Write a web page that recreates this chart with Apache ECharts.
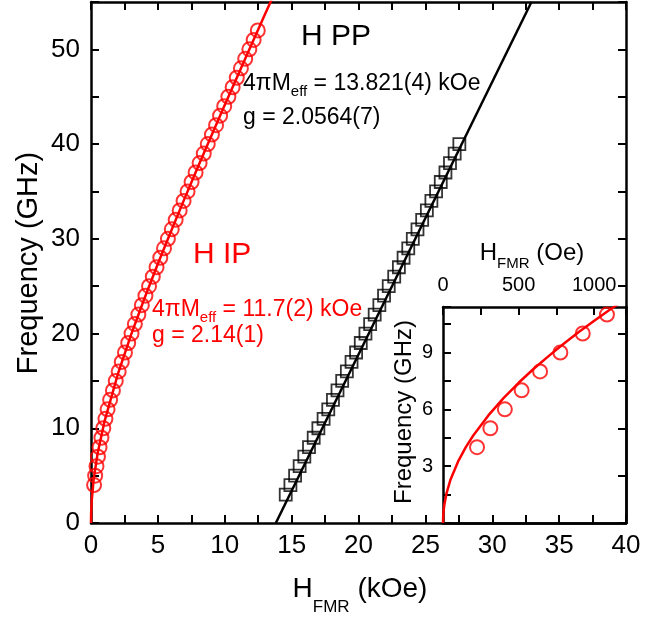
<!DOCTYPE html>
<html>
<head>
<meta charset="utf-8">
<script src="https://cdn.jsdelivr.net/npm/echarts@6/dist/echarts.min.js"></script>
<style>html,body{margin:0;padding:0;background:#fff;}#c{width:668px;height:620px;}</style>
</head>
<body>
<div id="c"></div>
<script>
// ---- data ----
// H IP (in-plane) measured points: field (kOe), frequency (GHz)
const ipField = [0.23,0.31,0.41,0.52,0.64,0.78,0.92,1.08,1.24,1.43,1.64,1.85,2.07,2.30,2.54,2.78,3.03,3.28,3.54,3.80,4.07,4.34,4.62,4.90,5.18,5.46,5.75,6.04,6.33,6.63,6.92,7.22,7.52,7.82,8.12,8.43,8.73,9.04,9.35,9.65,9.96,10.27,10.59,10.90,11.21,11.53,11.84,12.16,12.47];
const ipFreq  = [4,5,6,7,8,9,10,11,12,13,14,15,16,17,18,19,20,21,22,23,24,25,26,27,28,29,30,31,32,33,34,35,36,37,38,39,40,41,42,43,44,45,46,47,48,49,50,51,52];
// H IP fit curve
const ipFitField = [0,0.01,0.05,0.2,0.5,1,2,3,4,5,6,7,8,9,10,11,12,13,13.5];
const ipFitFreq  = [0,1.03,2.30,4.62,7.40,10.67,15.68,19.89,23.73,27.37,30.86,34.27,37.60,40.88,44.12,47.33,50.51,53.67,55.24];
// H PP (perpendicular) measured points
const ppField = [14.56,14.91,15.26,15.60,15.95,16.30,16.65,17.00,17.39,17.74,18.09,18.43,18.78,19.13,19.48,19.82,20.17,20.52,20.87,21.21,21.56,21.91,22.26,22.67,23.02,23.37,23.72,24.06,24.41,24.76,25.11,25.45,25.80,26.15,26.50,26.84,27.19,27.54];
const ppFreq  = [3,4,5,6,7,8,9,10,11,12,13,14,15,16,17,18,19,20,21,22,23,24,25,26,27,28,29,30,31,32,33,34,35,36,37,38,39,40];
// H PP fit line
const ppFitField = [13.82,32.93];
const ppFitFreq  = [0,55];
// inset: low-field in-plane points (Oe, GHz)
const insetField = [225,313,409,520,642,776,924,1084];
const insetFreq  = [4,5,6,7,8,9,10,11];
const insetFitField = [0,2,5,10,25,50,100,150,200,300,400,500,600,700,800,900,1000,1100,1200];
const insetFitFreq  = [0,0.46,0.72,1.02,1.62,2.30,3.25,3.99,4.62,5.68,6.59,7.40,8.14,8.82,9.47,10.09,10.67,11.24,11.78];

const F = "'Liberation Sans', Arial, sans-serif";
const RED = '#ff0000';
const zip = (a, b) => a.map((v, i) => [v, b[i]]);

const axisLine = {show: true, onZero: false, lineStyle: {color: '#000', width: 2.5}};
const tickIn = {show: true, inside: true, length: 8, lineStyle: {color: '#000', width: 2}};

const chart = echarts.init(document.getElementById('c'), null, {renderer: 'canvas'});
chart.setOption({
  animation: false,
  backgroundColor: '#fff',
  grid: [
    {left: 91, top: 2, width: 535, height: 521, containLabel: false},
    {left: 443, top: 307, width: 183, height: 216, show: true, backgroundColor: '#fff', borderWidth: 0, containLabel: false}
  ],
  xAxis: [
    {gridIndex: 0, type: 'value', min: 0, max: 40, interval: 2.5, position: 'bottom',
     axisLine, axisTick: tickIn, splitLine: {show: false},
     axisLabel: {fontFamily: F, fontSize: 26, color: '#000', margin: 10,
       formatter: v => (Math.abs(v % 5) < 1e-6 ? String(v) : '')}},
    {gridIndex: 0, type: 'value', min: 0, max: 40, interval: 2.5, position: 'top',
     axisLine, axisTick: tickIn, splitLine: {show: false}, axisLabel: {show: false}},
    {gridIndex: 1, type: 'value', min: 0, max: 1210, interval: 250, position: 'top',
     axisLine, axisTick: tickIn, splitLine: {show: false},
     axisLabel: {fontFamily: F, fontSize: 20, color: '#000', margin: 12,
       formatter: v => (v % 500 === 0 && v <= 1000 ? String(v) : '')}},
    {gridIndex: 1, type: 'value', min: 0, max: 1210, position: 'bottom',
     axisLine, axisTick: {show: false}, splitLine: {show: false}, axisLabel: {show: false}}
  ],
  yAxis: [
    {gridIndex: 0, type: 'value', min: 0, max: 55, interval: 5, position: 'left',
     axisLine, axisTick: tickIn, splitLine: {show: false},
     axisLabel: {fontFamily: F, fontSize: 26, color: '#000', margin: 11,
       formatter: v => (v % 10 === 0 ? String(v) : '')}},
    {gridIndex: 0, type: 'value', min: 0, max: 55, interval: 5, position: 'right',
     axisLine, axisTick: tickIn, splitLine: {show: false}, axisLabel: {show: false}},
    {gridIndex: 1, type: 'value', min: 0, max: 11.4, interval: 1.5, position: 'left',
     axisLine, axisTick: tickIn, splitLine: {show: false},
     axisLabel: {fontFamily: F, fontSize: 20, color: '#000', margin: 10,
       formatter: v => (v > 0 && Math.abs(v % 3) < 1e-6 ? String(Math.round(v)) : '')}},
    {gridIndex: 1, type: 'value', min: 0, max: 11.4, position: 'right',
     axisLine, axisTick: {show: false}, splitLine: {show: false}, axisLabel: {show: false}}
  ],
  series: [
    {type: 'line', xAxisIndex: 0, yAxisIndex: 0, data: zip(ipFitField, ipFitFreq), showSymbol: false,
     lineStyle: {color: RED, width: 2.5}, clip: true, z: 3},
    {type: 'scatter', xAxisIndex: 0, yAxisIndex: 0, data: zip(ipField, ipFreq), symbol: 'circle', symbolSize: 14,
     itemStyle: {color: 'rgba(0,0,0,0)', borderColor: RED, borderWidth: 2}, z: 2},
    {type: 'line', xAxisIndex: 0, yAxisIndex: 0, data: zip(ppFitField, ppFitFreq), showSymbol: false,
     lineStyle: {color: '#000', width: 2.5}, clip: true, z: 3},
    {type: 'scatter', xAxisIndex: 0, yAxisIndex: 0, data: zip(ppField, ppFreq), symbol: 'rect', symbolSize: 12,
     itemStyle: {color: 'rgba(0,0,0,0)', borderColor: '#000', borderWidth: 1.8}, z: 2},
    {type: 'line', xAxisIndex: 2, yAxisIndex: 2, data: zip(insetFitField, insetFitFreq), showSymbol: false,
     lineStyle: {color: RED, width: 2.5}, clip: true, z: 3},
    {type: 'scatter', xAxisIndex: 2, yAxisIndex: 2, data: zip(insetField, insetFreq), symbol: 'circle', symbolSize: 14,
     itemStyle: {color: 'rgba(0,0,0,0)', borderColor: RED, borderWidth: 2}, z: 2}
  ],
  graphic: [
    // main axis titles
    {type: 'text', x: 360, y: 575, style: {
      text: '{a|H}{s|FMR}{a| (kOe)}', align: 'center', verticalAlign: 'top', fill: '#000',
      rich: {a: {fontFamily: F, fontSize: 28, lineHeight: 28, verticalAlign: 'top'},
             s: {fontFamily: F, fontSize: 17, lineHeight: 17, padding: [24, 0, 0, 0], verticalAlign: 'top'}}}},
    {type: 'text', x: 29, y: 263, rotation: Math.PI / 2, style: {
      text: 'Frequency (GHz)', fontFamily: F, fontSize: 29, fill: '#000', align: 'center', verticalAlign: 'middle'}},
    // inset titles
    {type: 'text', x: 532, y: 241, style: {
      text: '{a|H}{s|FMR}{a| (Oe)}', align: 'center', verticalAlign: 'top', fill: '#000',
      rich: {a: {fontFamily: F, fontSize: 24, lineHeight: 24, verticalAlign: 'top'},
             s: {fontFamily: F, fontSize: 15, lineHeight: 15, padding: [15, 0, 0, 0], verticalAlign: 'top'}}}},
    {type: 'text', x: 404, y: 412, rotation: Math.PI / 2, style: {
      text: 'Frequency (GHz)', fontFamily: F, fontSize: 24, fill: '#000', align: 'center', verticalAlign: 'middle'}},
    // annotations
    {type: 'text', x: 301, y: 36.6, style: {text: 'H PP', fontFamily: F, fontSize: 30, fill: '#000', align: 'left', verticalAlign: 'middle'}},
    {type: 'text', x: 243, y: 72, style: {
      text: '{a|4πM}{s|eff}{a| = 13.821(4) kOe}', align: 'left', verticalAlign: 'top', fill: '#000',
      rich: {a: {fontFamily: F, fontSize: 23, lineHeight: 23, verticalAlign: 'top'},
             s: {fontFamily: F, fontSize: 15, lineHeight: 15, padding: [12, 0, 0, 0], verticalAlign: 'top'}}}},
    {type: 'text', x: 243, y: 118, style: {text: 'g = 2.0564(7)', fontFamily: F, fontSize: 23, fill: '#000', align: 'left', verticalAlign: 'middle'}},
    {type: 'text', x: 193, y: 254.6, style: {text: 'H IP', fontFamily: F, fontSize: 30, fill: RED, align: 'left', verticalAlign: 'middle'}},
    {type: 'text', x: 152, y: 298, style: {
      text: '{a|4πM}{s|eff}{a| = 11.7(2) kOe}', align: 'left', verticalAlign: 'top', fill: RED,
      rich: {a: {fontFamily: F, fontSize: 23, lineHeight: 23, verticalAlign: 'top', color: RED},
             s: {fontFamily: F, fontSize: 15, lineHeight: 15, padding: [12, 0, 0, 0], verticalAlign: 'top', color: RED}}}},
    {type: 'text', x: 152, y: 336, style: {text: 'g = 2.14(1)', fontFamily: F, fontSize: 23, fill: RED, align: 'left', verticalAlign: 'middle'}}
  ]
});
</script>
</body>
</html>
